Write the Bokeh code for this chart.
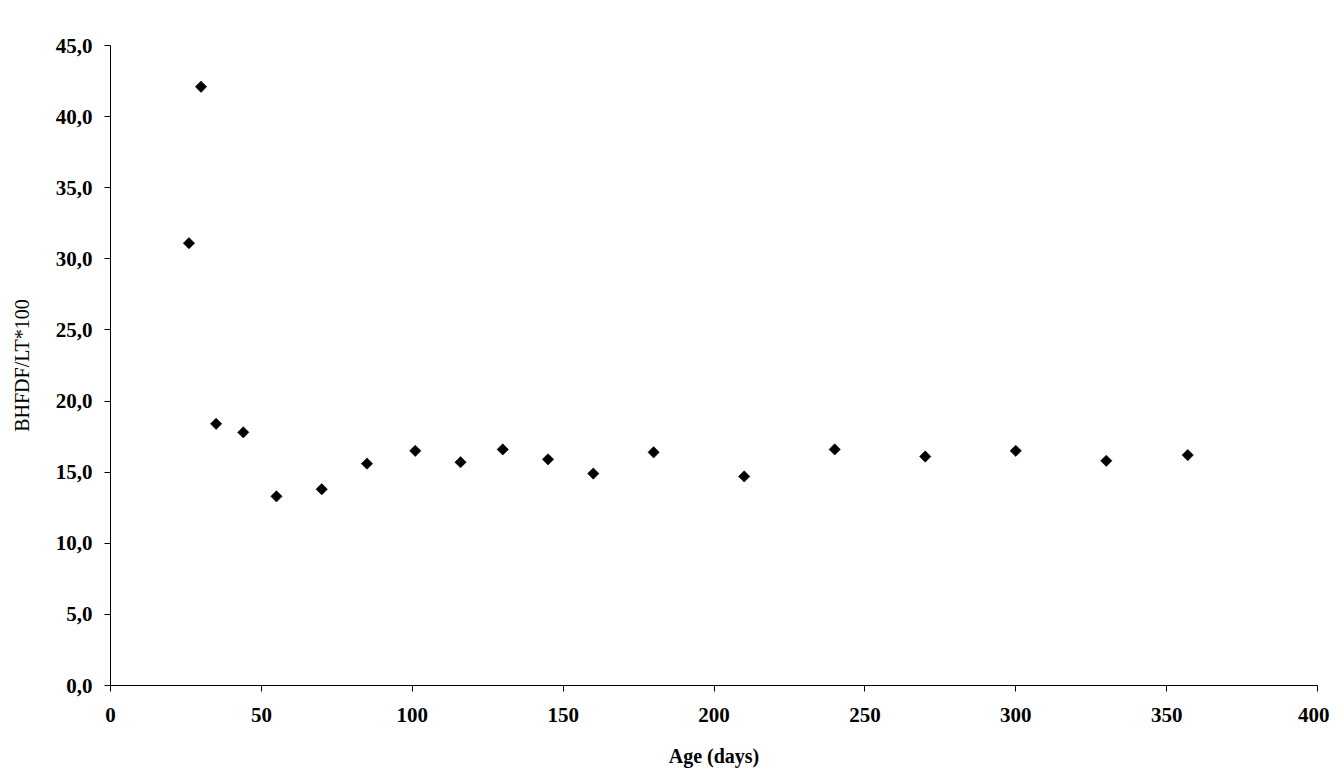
import math
from bokeh.plotting import figure
from bokeh.models import Range1d, FixedTicker, CustomJSTickFormatter, ColumnDataSource
from bokeh.embed import file_html
from bokeh.resources import INLINE

age_days = [26, 30, 35, 44, 55, 70, 85, 101, 116, 130, 145, 160, 180, 210, 240, 270, 300, 330, 357]
ratio = [31.1, 42.1, 18.4, 17.8, 13.3, 13.8, 15.6, 16.5, 15.7, 16.6, 15.9, 14.9, 16.4, 14.7, 16.6, 16.1, 16.5, 15.8, 16.2]
x_ticks = [0, 50, 100, 150, 200, 250, 300, 350, 400]
y_ticks = [0, 5, 10, 15, 20, 25, 30, 35, 40, 45]

FONT = "Liberation Serif"

p = figure(
    output_backend="svg",
    toolbar_location=None,
    frame_width=1207,
    frame_height=640,
    min_border_left=110,
    min_border_top=45,
    min_border_right=12,
    min_border_bottom=80,
    x_range=Range1d(0, 400),
    y_range=Range1d(0, 45),
)
p.outline_line_color = None
p.xgrid.visible = False
p.ygrid.visible = False
p.background_fill_color = "white"
p.border_fill_color = "white"

src = ColumnDataSource(dict(x=age_days, y=ratio))
p.scatter("x", "y", source=src, marker="square", size=8, angle=math.pi / 4,
          fill_color="black", line_color="black", line_width=0.6)

for ax in (p.xaxis[0], p.yaxis[0]):
    ax.axis_line_color = "black"
    ax.axis_line_width = 1
    ax.major_tick_line_color = "black"
    ax.major_tick_out = 6
    ax.major_tick_in = 0
    ax.minor_tick_line_color = None
    ax.major_label_text_font = FONT
    ax.major_label_text_font_size = "21px"
    ax.major_label_text_font_style = "bold"
    ax.major_label_text_color = "black"
    ax.axis_label_text_font = FONT
    ax.axis_label_text_font_size = "20px"
    ax.axis_label_text_color = "black"

p.xaxis.ticker = FixedTicker(ticks=x_ticks)
p.yaxis.ticker = FixedTicker(ticks=y_ticks)
p.yaxis.formatter = CustomJSTickFormatter(code="return tick.toFixed(1).replace('.', ',');")
p.xaxis.axis_label = "Age (days)"
p.xaxis.axis_label_text_font_style = "bold"
p.yaxis.axis_label = "BHFDF/LT*100"
p.yaxis.axis_label_text_font_style = "normal"
p.xaxis.major_label_standoff = 16
p.yaxis.major_label_standoff = 12
p.xaxis.axis_label_standoff = 20
p.yaxis.axis_label_standoff = 20

open("out.html", "w").write(file_html(p, INLINE))
